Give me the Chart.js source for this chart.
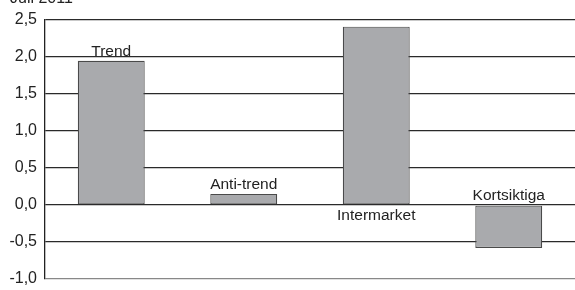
<!DOCTYPE html>
<html><head><meta charset="utf-8">
<script src="https://cdn.jsdelivr.net/npm/chart.js@4"></script>
<style>html,body{margin:0;padding:0;background:#fff}#wrap{width:575px;height:290px;position:relative}</style>
</head><body><div id="wrap"><canvas id="c"></canvas></div>
<script>
const categories = ["Trend", "Anti-trend", "Intermarket", "Kortsiktiga"];
const values = [1.95, 0.15, 2.41, -0.58];
const labelPos = ["above", "above", "below", "above"];
const titleText = "Juli 2011";

const labelPlugin = {
  id: 'barLabels',
  afterDatasetsDraw(chart) {
    const ctx = chart.ctx;
    const meta = chart.getDatasetMeta(0);
    const y = chart.scales.y;
    ctx.save();
    ctx.font = '15.5px "Liberation Sans", Arial, sans-serif';
    ctx.fillStyle = '#222';
    ctx.textAlign = 'center';
    ctx.textBaseline = 'alphabetic';
    meta.data.forEach((bar, i) => {
      const v = values[i];
      const topPix = v >= 0 ? bar.y : y.getPixelForValue(0);
      if (labelPos[i] === 'above') {
        ctx.fillText(categories[i], bar.x, topPix - 5);
      } else {
        ctx.fillText(categories[i], bar.x, y.getPixelForValue(0) + 15);
      }
    });
    ctx.font = '16px "Liberation Sans", Arial, sans-serif';
    ctx.textAlign = 'left';
    ctx.fillText(titleText, 10, 3);
    ctx.restore();
  }
};

new Chart(document.getElementById('c'), {
  type: 'bar',
  data: {
    labels: categories,
    datasets: [{
      data: values,
      backgroundColor: '#a9aaad',
      borderColor: '#4a4a4a',
      borderWidth: 1.2,
      borderSkipped: false,
      barPercentage: 0.505,
      categoryPercentage: 1.0
    }]
  },
  options: {
    responsive: true,
    maintainAspectRatio: false,
    animation: false,
    layout: { padding: { top: 20, bottom: 11, left: 0, right: 0 } },
    plugins: { legend: { display: false }, tooltip: { enabled: false } },
    scales: {
      x: { display: false },
      y: {
        min: -1.0, max: 2.5,
        afterFit(s) { s.width = 45; s.paddingTop = 0; s.paddingBottom = 0; },
        border: { display: true, color: '#222', width: 1.3 },
        grid: {
          color: ctx => ctx.tick && ctx.tick.value === -1 ? '#888' : '#2a2a2a',
          lineWidth: 1.3, drawTicks: false
        },
        ticks: {
          stepSize: 0.5,
          padding: 8,
          color: '#222',
          font: { size: 16, family: '"Liberation Sans", Arial, sans-serif' },
          callback: v => v.toFixed(1).replace('.', ',')
        }
      }
    }
  },
  plugins: [labelPlugin]
});
</script></body></html>
